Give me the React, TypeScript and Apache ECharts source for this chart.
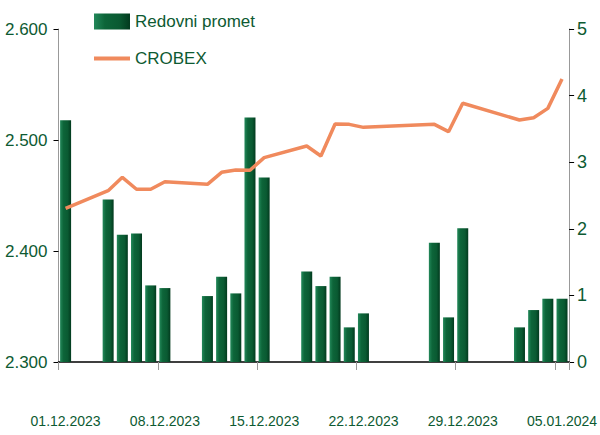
import React, { useEffect, useRef } from "react";
import * as echarts from "echarts";

const days: string[] = [
  "01.12.2023", "02.12.2023", "03.12.2023", "04.12.2023", "05.12.2023", "06.12.2023",
  "07.12.2023", "08.12.2023", "09.12.2023", "10.12.2023", "11.12.2023", "12.12.2023",
  "13.12.2023", "14.12.2023", "15.12.2023", "16.12.2023", "17.12.2023", "18.12.2023",
  "19.12.2023", "20.12.2023", "21.12.2023", "22.12.2023", "23.12.2023", "24.12.2023",
  "25.12.2023", "26.12.2023", "27.12.2023", "28.12.2023", "29.12.2023", "30.12.2023",
  "31.12.2023", "01.01.2024", "02.01.2024", "03.01.2024", "04.01.2024", "05.01.2024",
];

const turnover: (number | null)[] = [
  3.63, null, null, 2.44, 1.91, 1.93, 1.15, 1.11, null, null, 0.99, 1.28,
  1.03, 3.67, 2.77, null, null, 1.36, 1.14, 1.28, 0.52, 0.73, null, null,
  null, null, 1.79, 0.67, 2.01, null, null, null, 0.52, 0.78, 0.95, 0.95,
];

const crobex: (number | null)[] = [
  2.4385, null, null, 2.4543, 2.4664, 2.4556, 2.4556, 2.4624, null, null, 2.4601, 2.4709,
  2.473, 2.4727, 2.4841, null, null, 2.4946, 2.4856, 2.5144, 2.5141, 2.5114, null, null,
  null, null, 2.5141, 2.5075, 2.5331, null, null, null, 2.518, 2.5201, 2.5285, 2.555,
];

const leftTicks = { min: 2.3, max: 2.6, interval: 0.1 };
const rightTicks = { min: 0, max: 5, interval: 1 };

const FONT = "'Liberation Sans', Arial, sans-serif";
const TEXT = "#0d5a32";

export default function App() {
  const ref = useRef<HTMLDivElement>(null);
  useEffect(() => {
    if (!ref.current) return;
    const chart = echarts.init(ref.current, undefined, { renderer: "svg" });
    const barColor = new echarts.graphic.LinearGradient(0, 0, 1, 0, [
      { offset: 0, color: "#23885a" },
      { offset: 0.3, color: "#0d6539" },
      { offset: 0.7, color: "#0a5a32" },
      { offset: 1, color: "#023a1e" },
    ]);
    chart.setOption({
      animation: false,
      backgroundColor: "#ffffff",
      textStyle: { fontFamily: FONT },
      grid: { left: 58.5, right: 27, top: 29, bottom: 73 },
      legend: {
        orient: "vertical",
        left: 92,
        top: 13,
        padding: 0,
        itemWidth: 36,
        itemHeight: 16,
        itemGap: 20,
        textStyle: { color: TEXT, fontSize: 17, fontFamily: FONT },
        data: [
          { name: "Redovni promet", icon: "rect" },
          { name: "CROBEX", itemStyle: { opacity: 0 }, lineStyle: { width: 4, color: "#f08a5d" } },
        ],
      },
      xAxis: {
        type: "category",
        data: days,
        boundaryGap: true,
        axisLine: { lineStyle: { color: "#000", width: 1.5 } },
        axisTick: { show: true, interval: 6, length: 8, lineStyle: { color: "#999" } },
        axisLabel: {
          interval: 6,
          margin: 52,
          color: TEXT,
          fontSize: 14,
          fontFamily: FONT,
        },
        splitLine: { show: false },
      },
      yAxis: [
        {
          type: "value",
          position: "left",
          min: leftTicks.min,
          max: leftTicks.max,
          interval: leftTicks.interval,
          axisLine: { show: true, lineStyle: { color: "#999" } },
          axisTick: { show: true, length: 5, lineStyle: { color: "#000" } },
          axisLabel: {
            color: TEXT,
            fontSize: 17,
            fontFamily: FONT,
            margin: 11,
            formatter: (v: number) => v.toFixed(3),
          },
          splitLine: { show: false },
        },
        {
          type: "value",
          position: "right",
          min: rightTicks.min,
          max: rightTicks.max,
          interval: rightTicks.interval,
          axisLine: { show: true, lineStyle: { color: "#999" } },
          axisTick: { show: true, length: 5, lineStyle: { color: "#000" } },
          axisLabel: { color: TEXT, fontSize: 18, fontFamily: FONT, margin: 8 },
          splitLine: { show: false },
        },
      ],
      series: [
        {
          name: "Redovni promet",
          type: "bar",
          yAxisIndex: 1,
          data: turnover,
          barWidth: 11,
          itemStyle: { color: barColor },
        },
        {
          name: "CROBEX",
          type: "line",
          yAxisIndex: 0,
          data: crobex,
          connectNulls: true,
          showSymbol: false,
          z: 5,
          lineStyle: { color: "#f08a5d", width: 3.5 },
          itemStyle: { color: "#f08a5d" },
        },
      ],
    });
    return () => chart.dispose();
  }, []);
  return (
    <div
      ref={ref}
      style={{ position: "absolute", left: 0, top: 0, width: 600, height: 435 }}
    />
  );
}
